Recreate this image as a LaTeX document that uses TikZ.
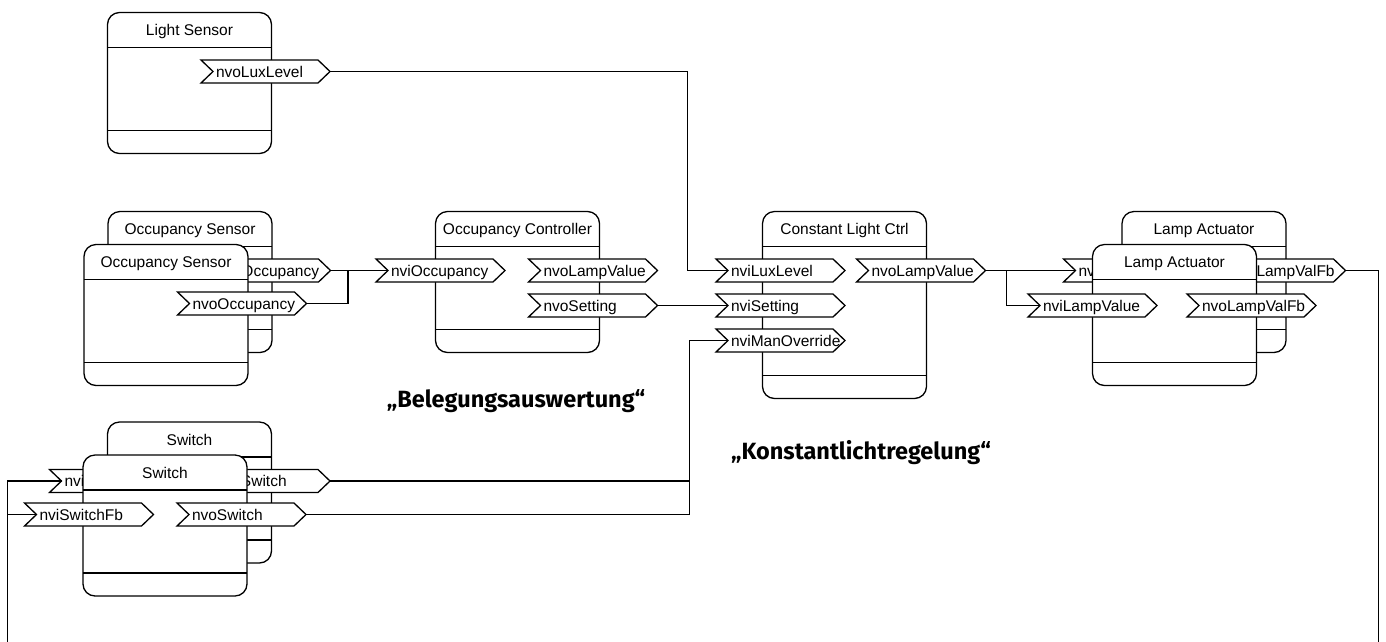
\documentclass[tikz,border=0pt]{standalone}
\usepackage{fontspec}
\setmainfont{Liberation Sans}
\newfontfamily\notefont{Fira Sans}
\usepackage{tikz}

\tikzset{
  fblock/.style={draw, fill=white, rounded corners=12pt, minimum width=164pt, line width=1.3pt,
    anchor=north west, inner sep=0pt, outer sep=0pt},
  blockline/.style={line width=1.3pt},
  fbtitle/.style={font=\fontsize{15.5}{18}\selectfont, inner sep=0pt, text height=11pt, text depth=0pt},
  portline/.style={draw, fill=white, line width=1.3pt},
  nvport/.style={anchor=west, minimum width=129pt, minimum height=23pt, inner sep=0pt, outer sep=0pt,
    font=\fontsize{15.5}{18}\selectfont, text height=11pt, text depth=0pt},
  wire/.style={line width=1.3pt},
  note/.style={font=\notefont\bfseries\fontsize{23.5}{28}\selectfont, inner sep=0pt, text height=16pt, text depth=0pt}
}

% function block: name, x, y (top left), height, title
\newcommand{\fblock}[5]{%
  \node[fblock, minimum height=#4pt] (#1) at (#2,#3) {};
  \draw[blockline] ([yshift=-35pt]#1.north west) -- ([yshift=-35pt]#1.north east);
  \draw[blockline] ([yshift=23pt]#1.south west) -- ([yshift=23pt]#1.south east);
  \node[fbtitle] (#1-t) at ([yshift=-17.5pt]#1.north) {#5};
}
% network variable: name, x (left edge), y (middle), text
\newcommand{\nvport}[4]{%
  \draw[portline] (#2,#3) ++(0,-11.5) -- ++(117,0) -- ++(12,11.5) -- ++(-12,11.5) -- ++(-117,0) -- ++(12,-11.5) -- cycle;
  \node[nvport] (#1) at (#2,#3) {\makebox[99pt][l]{#4}};
  \coordinate (#1-in) at ([xshift=12pt]#1.west);
}

\begin{document}
\begin{tikzpicture}[x=1pt,y=-1pt]
  \useasboundingbox (0,0) rectangle (1386,641);
  \clip (0,0) rectangle (1386,641);
  % sensors
  \fblock{ls}{107.5}{12.5}{141}{Light Sensor}
  \nvport{ls-lux}{201}{71.5}{nvoLuxLevel}
  \fblock{os2}{108}{211.5}{141}{Occupancy Sensor}
  \nvport{os2-occ}{201.5}{270.5}{nvoOccupancy}
  \fblock{os1}{84}{244.5}{141}{Occupancy Sensor}
  \nvport{os1-occ}{177.5}{303.5}{nvoOccupancy}
  % controllers
  \fblock{oc}{435.5}{211.5}{141}{Occupancy Controller}
  \nvport{oc-occ}{376}{270.5}{nviOccupancy}
  \nvport{oc-lamp}{528.5}{270.5}{nvoLampValue}
  \nvport{oc-set}{528.5}{305.5}{nvoSetting}
  \fblock{clc}{762.5}{211.5}{187}{Constant Light Ctrl}
  \nvport{clc-lux}{716}{270.5}{nviLuxLevel}
  \nvport{clc-set}{716}{305.5}{nviSetting}
  \nvport{clc-man}{716}{340.5}{nviManOverride}
  \nvport{clc-lamp}{856.5}{270.5}{nvoLampValue}
  % actuators
  \fblock{la2}{1122}{211.5}{141}{Lamp Actuator}
  \nvport{la2-lamp}{1063.5}{270.5}{nviLampValue}
  \nvport{la2-fb}{1216.5}{270.5}{nvoLampValFb}
  \fblock{la1}{1092.5}{244.5}{141}{Lamp Actuator}
  \nvport{la1-lamp}{1028}{305.5}{nviLampValue}
  \nvport{la1-fb}{1187}{305.5}{nvoLampValFb}
  % switches
  \fblock{sw2}{107.5}{422}{141}{Switch}
  \nvport{sw2-fb}{49.5}{481}{nviSwitchFb}
  \nvport{sw2-sw}{201}{481}{nvoSwitch}
  \fblock{sw1}{83}{455}{141}{Switch}
  \nvport{sw1-fb}{24.5}{514.5}{nviSwitchFb}
  \nvport{sw1-sw}{177}{514.5}{nvoSwitch}
  % bindings
  \coordinate (fbl) at (7.5,650);
  \coordinate (fbr) at (1378.5,650);
  \draw[wire] (ls-lux.east) -- ++(357.5,0) |- (clc-lux-in);
  \draw[wire] (os2-occ.east) -- (oc-occ-in);
  \draw[wire] (os1-occ.east) -- ++(41.5,0) |- (oc-occ-in);
  \draw[wire] (oc-set.east) -- (clc-set-in);
  \draw[wire] (sw2-sw.east) -- ++(359.5,0);
  \draw[wire] (sw1-sw.east) -- ++(383.5,0) |- (clc-man-in);
  \draw[wire] (clc-lamp.east) -- (la2-lamp-in);
  \draw[wire] ([xshift=21pt]clc-lamp.east) |- (la1-lamp-in);
  \draw[wire] (la2-fb.east) -| (fbr);
  \draw[wire] (sw2-fb-in) -| (fbl);
  \draw[wire] (sw1-fb-in) -- (sw1-fb-in -| fbl);
  % labels
  \node[note] (beleg) at (516,399.5) {„Belegungsauswertung“};
  \node[note] (konst) at (861,451.5) {„Konstantlichtregelung“};
\end{tikzpicture}
\end{document}
